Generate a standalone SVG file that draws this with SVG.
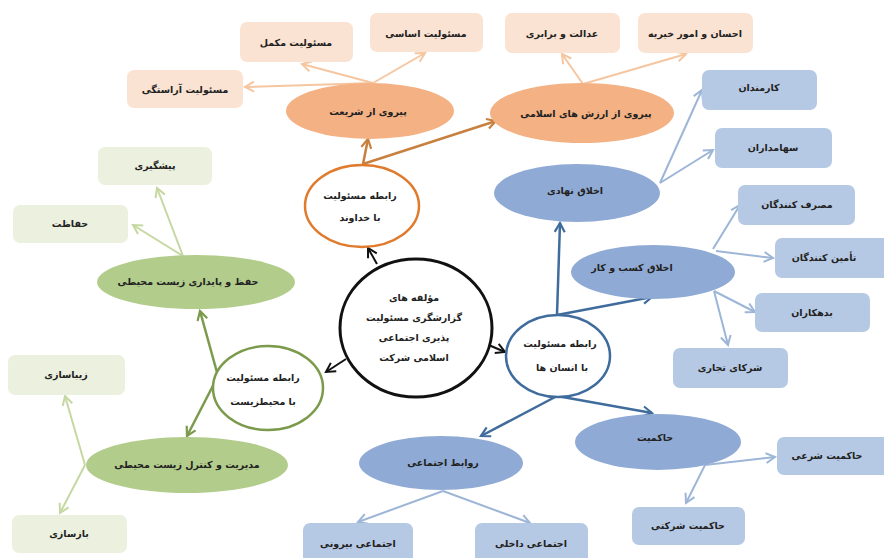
<svg xmlns="http://www.w3.org/2000/svg" width="884" height="558" viewBox="0 0 884 558">
<style>
text{font-family:"DejaVu Sans","Noto Sans",sans-serif;font-size:9.5px;font-weight:bold;fill:#222;text-anchor:middle}
.bo{fill:#FBE3D3}
.bb{fill:#B6C9E4}
.bg{fill:#EBF1DE}
.eo{fill:#F4B183}
.eb{fill:#8FAAD4}
.eg{fill:#B2CC8C}
.c{fill:#fff}
.lo{stroke:#C8803F;stroke-width:2.5;fill:none}
.lol{stroke:#F5C6A0;stroke-width:2;fill:none}
.lb{stroke:#3F6C9C;stroke-width:2.5;fill:none}
.lbl{stroke:#9DB5D6;stroke-width:2;fill:none}
.lg{stroke:#7C9A4C;stroke-width:2.5;fill:none}
.lgl{stroke:#C6D8A2;stroke-width:2;fill:none}
.lk{stroke:#111;stroke-width:2;fill:none}
</style>
<defs>
<marker id="mo" markerUnits="userSpaceOnUse" markerWidth="14" markerHeight="14" refX="11" refY="7" orient="auto"><path d="M2,2 L11,7 L2,12" fill="none" stroke="#C8803F" stroke-width="2.2"/></marker>
<marker id="mol" markerUnits="userSpaceOnUse" markerWidth="14" markerHeight="14" refX="11" refY="7" orient="auto"><path d="M2,2 L11,7 L2,12" fill="none" stroke="#F5C6A0" stroke-width="2"/></marker>
<marker id="mb" markerUnits="userSpaceOnUse" markerWidth="14" markerHeight="14" refX="11" refY="7" orient="auto"><path d="M2,2 L11,7 L2,12" fill="none" stroke="#3F6C9C" stroke-width="2.2"/></marker>
<marker id="mbl" markerUnits="userSpaceOnUse" markerWidth="14" markerHeight="14" refX="11" refY="7" orient="auto"><path d="M2,2 L11,7 L2,12" fill="none" stroke="#9DB5D6" stroke-width="2"/></marker>
<marker id="mg" markerUnits="userSpaceOnUse" markerWidth="14" markerHeight="14" refX="11" refY="7" orient="auto"><path d="M2,2 L11,7 L2,12" fill="none" stroke="#7C9A4C" stroke-width="2.2"/></marker>
<marker id="mgl" markerUnits="userSpaceOnUse" markerWidth="14" markerHeight="14" refX="11" refY="7" orient="auto"><path d="M2,2 L11,7 L2,12" fill="none" stroke="#C6D8A2" stroke-width="2"/></marker>
<marker id="mk" markerUnits="userSpaceOnUse" markerWidth="14" markerHeight="14" refX="11" refY="7" orient="auto"><path d="M2,2 L11,7 L2,12" fill="none" stroke="#111" stroke-width="2"/></marker>
</defs>
<rect width="884" height="558" fill="#fff"/>

<g id="connectors">
<line class="lo" x1="363" y1="164" x2="368" y2="139" marker-end="url(#mo)"/>
<line class="lo" x1="363" y1="164" x2="496" y2="121" marker-end="url(#mo)"/>
<line class="lol" x1="373" y1="83" x2="245" y2="87" marker-end="url(#mol)"/>
<line class="lol" x1="373" y1="83" x2="302" y2="64" marker-end="url(#mol)"/>
<line class="lol" x1="373" y1="83" x2="425" y2="53" marker-end="url(#mol)"/>
<line class="lol" x1="583" y1="84" x2="562" y2="54" marker-end="url(#mol)"/>
<line class="lol" x1="583" y1="84" x2="686" y2="54" marker-end="url(#mol)"/>
<line class="lk" x1="377" y1="264" x2="368" y2="248" marker-end="url(#mk)"/>
<line class="lk" x1="484" y1="343" x2="505" y2="352" marker-end="url(#mk)"/>
<line class="lk" x1="346" y1="359" x2="326" y2="372" marker-end="url(#mk)"/>
<line class="lb" x1="557" y1="315" x2="560" y2="223" marker-end="url(#mb)"/>
<line class="lb" x1="557" y1="315" x2="652" y2="297" marker-end="url(#mb)"/>
<line class="lb" x1="557" y1="396" x2="481" y2="436" marker-end="url(#mb)"/>
<line class="lb" x1="557" y1="396" x2="652" y2="413" marker-end="url(#mb)"/>
<line class="lbl" x1="660" y1="183" x2="702" y2="90" marker-end="url(#mbl)"/>
<line class="lbl" x1="660" y1="183" x2="713" y2="150" marker-end="url(#mbl)"/>
<line class="lbl" x1="713" y1="249" x2="740" y2="205" marker-end="url(#mbl)"/>
<line class="lbl" x1="716" y1="251" x2="773" y2="258" marker-end="url(#mbl)"/>
<line class="lbl" x1="714" y1="291" x2="755" y2="312" marker-end="url(#mbl)"/>
<line class="lbl" x1="714" y1="291" x2="728" y2="345" marker-end="url(#mbl)"/>
<line class="lbl" x1="705" y1="465" x2="775" y2="457" marker-end="url(#mbl)"/>
<line class="lbl" x1="705" y1="465" x2="686" y2="503" marker-end="url(#mbl)"/>
<line class="lbl" x1="443" y1="491" x2="358" y2="522" marker-end="url(#mbl)"/>
<line class="lbl" x1="443" y1="491" x2="530" y2="523" marker-end="url(#mbl)"/>
<line class="lg" x1="218" y1="376" x2="200" y2="311" marker-end="url(#mg)"/>
<line class="lg" x1="218" y1="376" x2="187" y2="436" marker-end="url(#mg)"/>
<line class="lgl" x1="183" y1="256" x2="157" y2="188" marker-end="url(#mgl)"/>
<line class="lgl" x1="183" y1="256" x2="133" y2="225" marker-end="url(#mgl)"/>
<line class="lgl" x1="85" y1="465" x2="65" y2="396" marker-end="url(#mgl)"/>
<line class="lgl" x1="85" y1="465" x2="60" y2="513" marker-end="url(#mgl)"/>
</g>

<g id="n-center"><ellipse cx="416" cy="328" rx="76" ry="69" class="c" stroke="#111" stroke-width="3"/>
<text x="414" y="301">مؤلفه های</text><text x="414" y="321">گزارشگری مسئولیت</text><text x="414" y="341">پذیری اجتماعی</text><text x="414" y="361">اسلامی شرکت</text></g>

<g id="n-god"><ellipse cx="362" cy="206" rx="57" ry="41" class="c" stroke="#E07B2E" stroke-width="2.5"/>
<text x="360" y="199">رابطه مسئولیت</text><text x="360" y="221">با خداوند</text></g>
<g id="n-sharia"><ellipse cx="370" cy="111" rx="84" ry="28" class="eo"/><text x="368" y="115">پیروی از شریعت</text></g>
<g id="n-values"><ellipse cx="582" cy="113" rx="92" ry="30" class="eo"/><text x="586" y="117">پیروی از ارزش های اسلامی</text></g>
<g id="n-arastegi"><rect x="127" y="70" width="116" height="38" rx="7" class="bo"/><text x="185" y="93">مسئولیت آراستگی</text></g>
<g id="n-mokammel"><rect x="240" y="22" width="113" height="40" rx="7" class="bo"/><text x="296" y="46">مسئولیت مکمل</text></g>
<g id="n-asasi"><rect x="370" y="13" width="113" height="39" rx="7" class="bo"/><text x="426" y="37">مسئولیت اساسی</text></g>
<g id="n-edalat"><rect x="505" y="13" width="115" height="40" rx="7" class="bo"/><text x="562" y="37">عدالت و برابری</text></g>
<g id="n-ehsan"><rect x="638" y="13" width="115" height="40" rx="7" class="bo"/><text x="695" y="37">احسان و امور خیریه</text></g>

<g id="n-human"><ellipse cx="558" cy="356" rx="52" ry="41" class="c" stroke="#3F6C9C" stroke-width="2.5"/>
<text x="560" y="347">رابطه مسئولیت</text><text x="562" y="371">با انسان ها</text></g>
<g id="n-nahadi"><ellipse cx="577" cy="193" rx="83" ry="29" class="eb"/><text x="575" y="194">اخلاق نهادی</text></g>
<g id="n-kasb"><ellipse cx="653" cy="272" rx="82" ry="27" class="eb"/><text x="632" y="271">اخلاق کسب و کار</text></g>
<g id="n-hakemiat"><ellipse cx="658" cy="442" rx="83" ry="28" class="eb"/><text x="655" y="441">حاکمیت</text></g>
<g id="n-ravabet"><ellipse cx="441" cy="463" rx="82" ry="27" class="eb"/><text x="443" y="466">روابط اجتماعی</text></g>
<g id="n-karmandan"><rect x="702" y="70" width="115" height="40" rx="7" class="bb"/><text x="759" y="91">کارمندان</text></g>
<g id="n-sahamdaran"><rect x="715" y="128" width="117" height="40" rx="7" class="bb"/><text x="773" y="151">سهامداران</text></g>
<g id="n-masraf"><rect x="738" y="185" width="117" height="40" rx="7" class="bb"/><text x="797" y="208">مصرف کنندگان</text></g>
<g id="n-tamin"><rect x="775" y="238" width="115" height="40" rx="7" class="bb"/><text x="824" y="261">تأمین کنندگان</text></g>
<g id="n-bedehkaran"><rect x="755" y="293" width="115" height="39" rx="7" class="bb"/><text x="812" y="316">بدهکاران</text></g>
<g id="n-shoraka"><rect x="673" y="348" width="115" height="40" rx="7" class="bb"/><text x="730" y="371">شرکای تجاری</text></g>
<g id="n-shari"><rect x="777" y="437" width="115" height="38" rx="7" class="bb"/><text x="827" y="459">حاکمیت شرعی</text></g>
<g id="n-sherkati"><rect x="632" y="507" width="113" height="38" rx="7" class="bb"/><text x="688" y="529">حاکمیت شرکتی</text></g>
<g id="n-dakheli"><rect x="475" y="523" width="113" height="42" rx="7" class="bb"/><text x="531" y="547">اجتماعی داخلی</text></g>
<g id="n-biruni"><rect x="303" y="523" width="110" height="42" rx="7" class="bb"/><text x="358" y="547">اجتماعی بیرونی</text></g>

<g id="n-env"><ellipse cx="268" cy="388" rx="55" ry="42" class="c" stroke="#7C9A4C" stroke-width="2.5"/>
<text x="263" y="381">رابطه مسئولیت</text><text x="263" y="405">با محیطزیست</text></g>
<g id="n-hefz"><ellipse cx="196" cy="282" rx="99" ry="27" class="eg"/><text x="188" y="285">حفظ و پایداری زیست محیطی</text></g>
<g id="n-modiriat"><ellipse cx="187" cy="465" rx="101" ry="28" class="eg"/><text x="187" y="468">مدیریت و کنترل زیست محیطی</text></g>
<g id="n-pishgiri"><rect x="98" y="147" width="114" height="38" rx="7" class="bg"/><text x="155" y="169">پیشگیری</text></g>
<g id="n-hefazat"><rect x="13" y="205" width="115" height="38" rx="7" class="bg"/><text x="70" y="227">حفاظت</text></g>
<g id="n-zibasazi"><rect x="8" y="355" width="117" height="40" rx="7" class="bg"/><text x="66" y="378">زیباسازی</text></g>
<g id="n-bazsazi"><rect x="12" y="515" width="115" height="38" rx="7" class="bg"/><text x="69" y="537">بازسازی</text></g>
</svg>
